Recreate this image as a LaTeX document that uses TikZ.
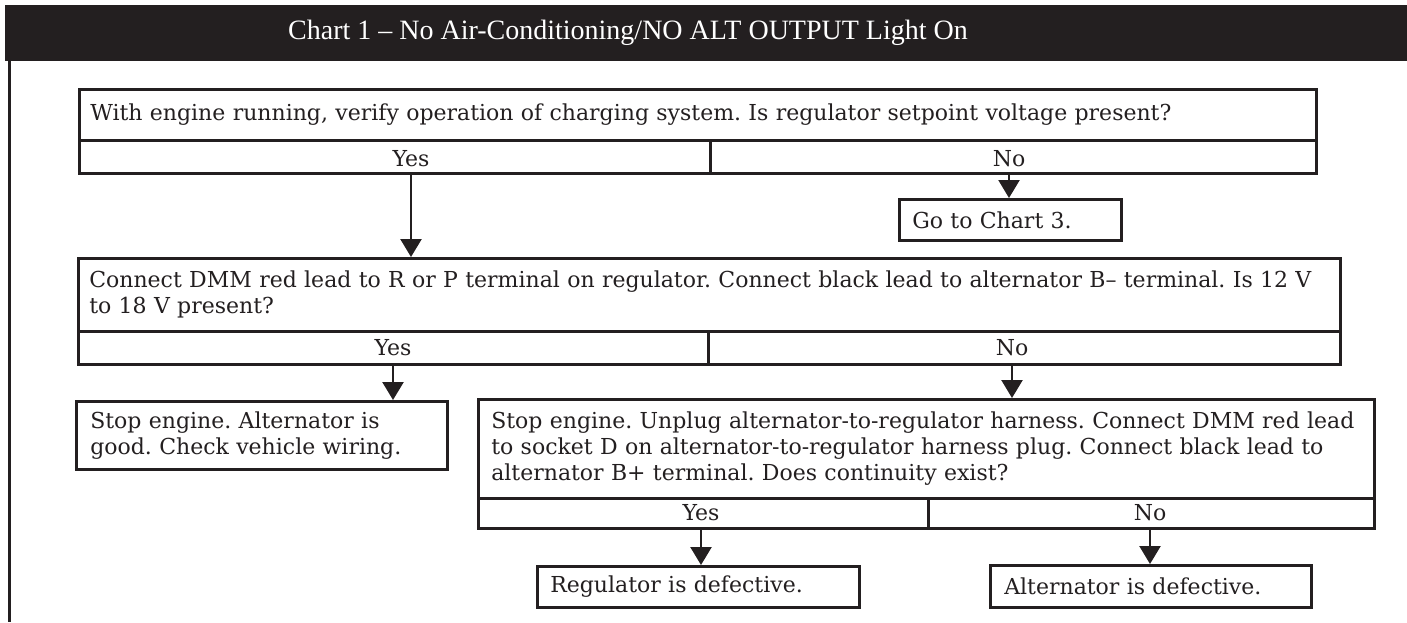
\documentclass[tikz,border=0pt]{standalone}
\usepackage{fontspec}
\setmainfont{DejaVu Serif}
\newfontfamily\headfont{Liberation Serif}
\usetikzlibrary{arrows.meta}
\definecolor{ink}{HTML}{231F20}
\frenchspacing

\begin{document}
\begin{tikzpicture}[x=1pt,y=-1pt,
  body/.style={font=\fontsize{22}{26}\selectfont, text=ink},
  qbox/.style={body, draw=ink, line width=2.6pt, rectangle, anchor=north west,
               inner xsep=11pt, inner ysep=0pt, align=left},
  cell/.style={draw=ink, line width=2.6pt, rectangle, anchor=north west, inner sep=0pt},
  lbl/.style={body, anchor=base, inner sep=0pt},
  arr/.style={draw=ink, line width=2.4pt, -{Triangle[width=21pt,length=18pt]}},
]
\useasboundingbox (0,0) rectangle (1407,622);

% title bar and left frame rule
\fill[ink] (5,5) rectangle (1407,61);
\node[font=\headfont\fontsize{28}{31}\selectfont, text=white] (title) at (628,33)
  {Chart 1 – No Air-Conditioning/NO ALT OUTPUT Light On};
\draw[ink, line width=3pt] (9,61) -- (9,622);

% first question
\node[qbox, minimum width=1237pt, minimum height=51pt, text width=1215pt] (q1) at (78,88)
  {\mbox{With engine running, verify operation of charging system. Is regulator setpoint voltage present?}};
\node[cell, minimum width=631pt, minimum height=33pt] (r1y) at (78,139) {};
\node[cell, minimum width=606pt, minimum height=33pt] (r1n) at (709,139) {};
\node[lbl] (l1y) at (411,166) {Yes};
\node[lbl] (l1n) at (1009,166) {No};

\node[qbox, minimum width=218pt, minimum height=41pt, text width=196pt, inner xsep=13pt] (go) at (898,198)
  {Go to Chart 3.};

% second question
\node[qbox, minimum width=1262pt, minimum height=73pt, text width=1240pt, inner xsep=10pt] (q2) at (77,257)
  {\mbox{Connect DMM red lead to R or P terminal on regulator. Connect black lead to alternator B– terminal. Is 12 V}\\
   \mbox{to 18 V present?}};
\node[cell, minimum width=630pt, minimum height=33pt] (r2y) at (77,330) {};
\node[cell, minimum width=632pt, minimum height=33pt] (r2n) at (707,330) {};
\node[lbl] (l2y) at (393,355) {Yes};
\node[lbl] (l2n) at (1012,355) {No};

\node[qbox, minimum width=371pt, minimum height=68pt, text width=343pt, inner xsep=14pt] (s3) at (75,400)
  {\mbox{Stop engine. Alternator is}\\ \mbox{good. Check vehicle wiring.}};

% third question
\node[qbox, minimum width=896pt, minimum height=99pt, text width=870pt, inner xsep=13pt] (q4) at (477,398)
  {\mbox{Stop engine. Unplug alternator-to-regulator harness. Connect DMM red lead}\\
   \mbox{to socket D on alternator-to-regulator harness plug. Connect black lead to}\\
   \mbox{alternator B+ terminal. Does continuity exist?}};
\node[cell, minimum width=450pt, minimum height=30pt] (r4y) at (477,497) {};
\node[cell, minimum width=446pt, minimum height=30pt] (r4n) at (927,497) {};
\node[lbl] (l4y) at (701,520) {Yes};
\node[lbl] (l4n) at (1150,520) {No};

\node[qbox, minimum width=322pt, minimum height=41pt, text width=296pt, inner xsep=13pt] (s5) at (536,565)
  {Regulator is defective.};
\node[qbox, minimum width=321pt, minimum height=42pt, text width=293pt, inner xsep=14pt] (s6) at (989,564)
  {Alternator is defective.};

% connectors
\draw[arr] (l1y |- r1y.south) -- (l1y |- q2.north);
\draw[arr] (l1n |- r1n.south) -- (l1n |- go.north);
\draw[arr] (l2y |- r2y.south) -- (l2y |- s3.north);
\draw[arr] (l2n |- r2n.south) -- (l2n |- q4.north);
\draw[arr] (l4y |- r4y.south) -- (l4y |- s5.north);
\draw[arr] (l4n |- r4n.south) -- (l4n |- s6.north);
\end{tikzpicture}
\end{document}
